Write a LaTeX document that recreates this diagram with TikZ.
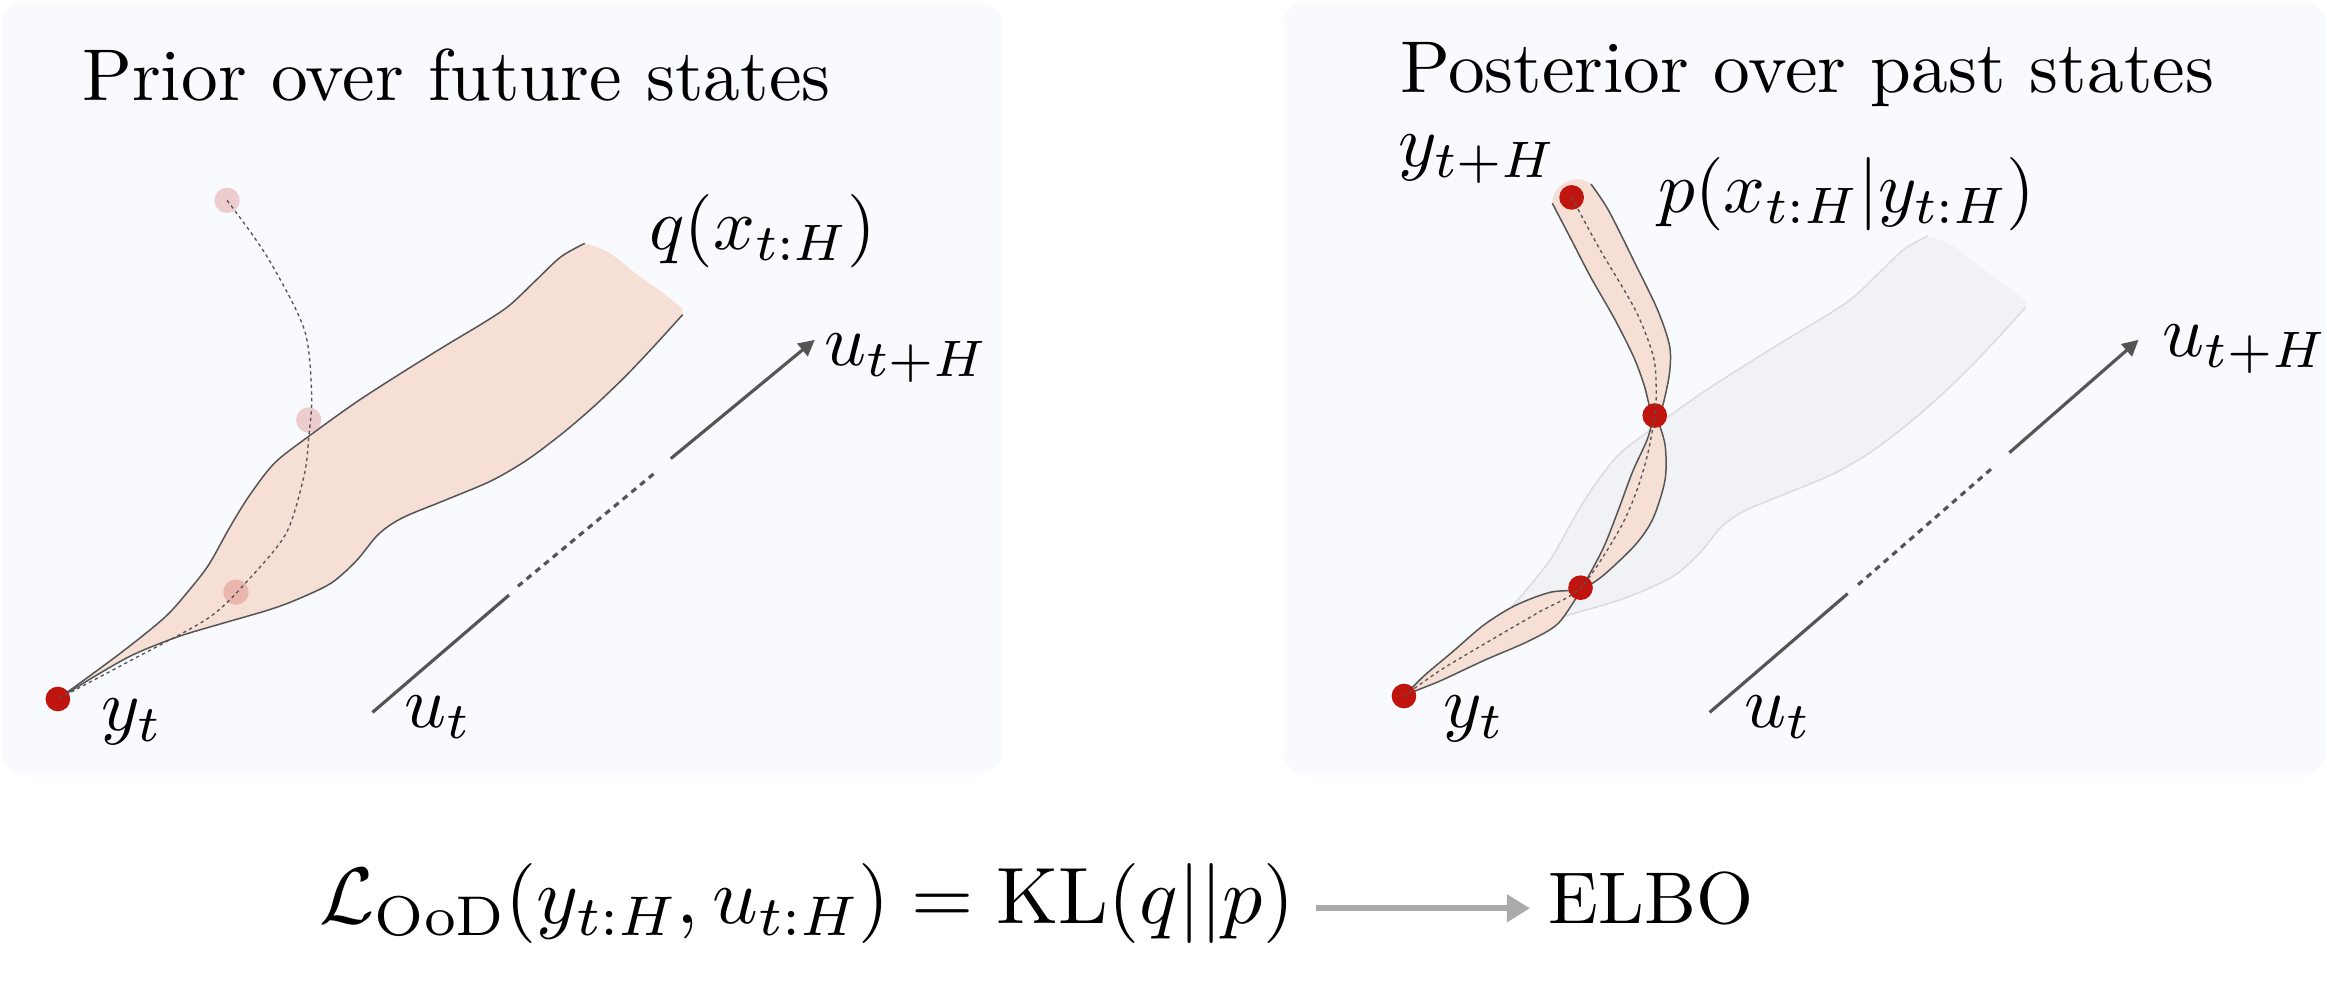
\documentclass[tikz,border=0pt]{standalone}
\usepackage[no-math]{fontspec}
\setmainfont{lmroman10-regular.otf}
\DeclareFontShape{OML}{cmm}{m}{it}{<-12> cmmi5 <12-18> cmmi7 <18-> cmmi10}{}
\DeclareFontShape{OT1}{cmr}{m}{n}{<-12> cmr5 <12-18> cmr7 <18-> cmr10}{}
\DeclareFontShape{OMS}{cmsy}{m}{n}{<-12> cmsy5 <12-18> cmsy7 <18-> cmsy10}{}
\DeclareFontShape{OMX}{cmex}{m}{n}{<-> cmex10}{}
\usepackage{amsmath}
\usetikzlibrary{arrows.meta,calc}
\definecolor{panelbg}{RGB}{249,250,253}
\definecolor{peach}{RGB}{246,223,213}
\definecolor{dotred}{RGB}{192,20,14}
\definecolor{edgegray}{RGB}{85,85,85}
\definecolor{ghostfill}{RGB}{241,242,245}
\definecolor{ghostedge}{RGB}{218,220,224}
\definecolor{arrowgray}{RGB}{170,170,170}
\newcommand{\PbandFill}{plot[smooth] coordinates {(39,471) (80,441) (111,416) (128,397) (141,380) (155,355) (168,334) (185,312) (208,294) (240,271) (271,251) (300,233) (325,218) (343,206) (361,189) (378,173) (394,164)} -- plot[smooth] coordinates {(394,164) (410,170) (428,184) (446,197) (460,208)} -- plot[smooth] coordinates {(460,212) (440,234) (421,254) (400,274) (379,292) (355,310) (331,324) (300,337) (271,349) (255,360) (240,378) (223,393) (200,404) (181,411) (150,420) (120,429) (90,441) (65,455) (39,471)} -- cycle}
\newcommand{\PbandUp}{plot[smooth] coordinates {(39,471) (80,441) (111,416) (128,397) (141,380) (155,355) (168,334) (185,312) (208,294) (240,271) (271,251) (300,233) (325,218) (343,206) (361,189) (378,173) (394,164)}}
\newcommand{\PbandLow}{plot[smooth] coordinates {(460,212) (440,234) (421,254) (400,274) (379,292) (355,310) (331,324) (300,337) (271,349) (255,360) (240,378) (223,393) (200,404) (181,411) (150,420) (120,429) (90,441) (65,455) (39,471)}}
\begin{document}
\begin{tikzpicture}[x=0.4452pt,y=-0.4452pt,
  lbl/.style={inner sep=0pt, anchor=base west, font=\fontsize{22}{26}\selectfont},
  eqlbl/.style={inner sep=0pt, anchor=base west, font=\fontsize{24}{28}\selectfont},
  bandedge/.style={draw=edgegray, line width=0.45pt},
  dotcurve/.style={draw=edgegray, line width=0.4pt, dash pattern=on 1pt off 1pt},
  rdot/.style={circle, fill=dotred, inner sep=0pt, minimum size=7.4pt},
  fdot/.style={circle, fill=dotred, opacity=0.2, inner sep=0pt, minimum size=7.6pt},
  uline/.style={draw=edgegray, line width=0.95pt},
  udash/.style={draw=edgegray, line width=0.95pt, dash pattern=on 1.8pt off 1.6pt},
  uarrow/.style={draw=edgegray, line width=0.95pt, -{Triangle[length=4.8pt,width=4.8pt]}},
  bigarrow/.style={draw=arrowgray, line width=1.7pt, -{Triangle[length=7pt,width=8pt]}}]
\useasboundingbox (0,0) rectangle (1568,666);
% panels
\fill[panelbg, rounded corners=6] (1,2) rectangle (675,521);
\fill[panelbg, rounded corners=6] (865,2) rectangle (1567,521);
% titles
\node[lbl] (tL) at (55,68) {Prior over future states};
\node[lbl] (tR) at (943,62) {Posterior over past states};
% ---------------- left panel
\fill[peach] \PbandFill;
\draw[bandedge] \PbandUp;
\draw[bandedge] \PbandLow;
\node[fdot] (f3) at (153,135) {};
\node[fdot] (f2) at (208,283) {};
\node[fdot] (f1) at (159,399) {};
\node[rdot] (yL) at (39,471) {};
\draw[dotcurve] plot[smooth] coordinates {(f3.center) (180,173) (205,222) (210,266) (208,295) (205,320) (193,359) (168,390) (141,416) (90,444) (yL.center)};
% u arrow left
\coordinate (uL0) at (251,480);
\coordinate (uL1) at (343,401);
\coordinate (uL2) at (349,395);
\coordinate (uL3) at (442,318);
\coordinate (uL4) at (452,309);
\coordinate (uL5) at (549,229);
\draw[uline] (uL0) -- (uL1);
\draw[udash] (uL2) -- (uL3);
\draw[uarrow] (uL4) -- (uL5);
\node[lbl] (yLl) at (68,492) {$y_t$};
\node[lbl] (uLl) at (272,490) {$u_t$};
\node[lbl] (uLH) at (555,246) {$u_{t+H}$};
\node[lbl] (qL) at (437,168) {$q(x_{t:H})$};
% ---------------- right panel
\begin{scope}
\clip (985,398) -- (1085,430) -- (1500,430) -- (1500,100) -- (985,100) -- cycle;
\begin{scope}[shift={(905,-5)}]
\fill[ghostfill] \PbandFill;
\draw[ghostedge, line width=0.45pt] \PbandUp;
\draw[ghostedge, line width=0.45pt] \PbandLow;
\end{scope}
\end{scope}
\fill[peach] plot[smooth] coordinates {(1046,137) (1058,160) (1072,187) (1088,215) (1101,241) (1108,260) (1111,272) (1114,281)}
 -- plot[smooth] coordinates {(1114,281) (1110,296) (1100,318) (1090,345) (1080,370) (1065,398)}
 -- plot[smooth] coordinates {(1065,398) (1045,399) (1021,408) (1000,421) (979,439) (960,455) (947,468)}
 -- plot[smooth] coordinates {(947,468) (970,459) (1000,445) (1030,432) (1050,420) (1065,398)}
 -- plot[smooth] coordinates {(1065,398) (1080,388) (1102,367) (1114,349) (1122,323) (1122,300) (1117,283)}
 -- plot[smooth] coordinates {(1117,283) (1121,271) (1125,251) (1125,233) (1117,209) (1102,178) (1084,142) (1072,124)}
 .. controls (1062,116) and (1046,124) .. (1046,137) -- cycle;
\draw[bandedge] plot[smooth] coordinates {(1046,137) (1058,160) (1072,187) (1088,215) (1101,241) (1108,260) (1111,272) (1114,281)};
\draw[bandedge] plot[smooth] coordinates {(1114,281) (1110,296) (1100,318) (1090,345) (1080,370) (1065,398)};
\draw[bandedge] plot[smooth] coordinates {(1065,398) (1045,399) (1021,408) (1000,421) (979,439) (960,455) (947,468)};
\draw[bandedge] plot[smooth] coordinates {(947,468) (970,459) (1000,445) (1030,432) (1050,420) (1065,398)};
\draw[bandedge] plot[smooth] coordinates {(1065,398) (1080,388) (1102,367) (1114,349) (1122,323) (1122,300) (1117,283)};
\draw[bandedge] plot[smooth] coordinates {(1117,283) (1121,271) (1125,251) (1125,233) (1117,209) (1102,178) (1084,142) (1072,124)};
\node[rdot] (p4) at (1059,133) {};
\node[rdot] (p3) at (1115,280) {};
\node[rdot] (p2) at (1065,396) {};
\node[rdot] (yR) at (946,469) {};
\draw[dotcurve] plot[smooth] coordinates {(p4.center) (1078,168) (1102,209) (1114,240) (1116,262) (p3.center) (1110,307) (1102,333) (1090,359) (p2.center) (1036,413) (1000,434) (970,452) (yR.center)};
\coordinate (uR0) at (1152,480);
\coordinate (uR1) at (1245,400);
\coordinate (uR2) at (1252,394);
\coordinate (uR3) at (1344,314);
\coordinate (uR4) at (1354,305);
\coordinate (uR5) at (1441,229);
\draw[uline] (uR0) -- (uR1);
\draw[udash] (uR2) -- (uR3);
\draw[uarrow] (uR4) -- (uR5);
\node[lbl] (yRl) at (972,490) {$y_t$};
\node[lbl] (uRl) at (1175,490) {$u_t$};
\node[lbl] (uRH) at (1457,240) {$u_{t+H}$};
\node[lbl] (yRH) at (942,112) {$y_{t+H}$};
\node[lbl] (pR) at (1117,143) {$p(x_{t:H}|y_{t:H})$};
% ---------------- equation
\node[eqlbl] (eq) at (215,622) {$\mathcal{L}_{\mathrm{OoD}}(y_{t:H}, u_{t:H}) = \mathrm{KL}(q||p)$};
\node[lbl] (elbo) at (1043,622) {ELBO};
\draw[bigarrow] ($(eq.base east)+(14,-10)$) -- ($(elbo.base west)+(-12,-10)$);
\end{tikzpicture}
\end{document}
